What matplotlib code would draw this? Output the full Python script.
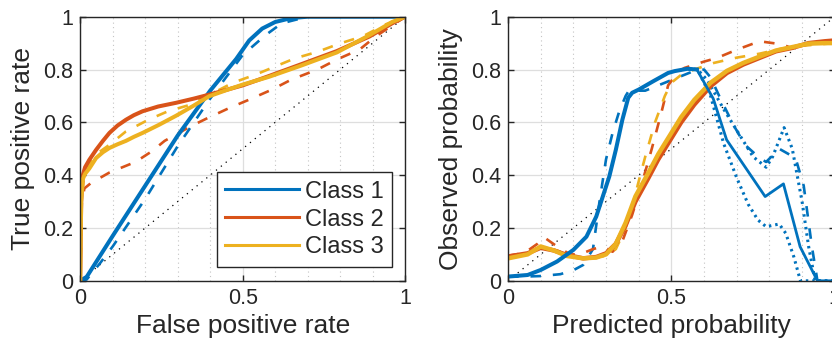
import matplotlib
matplotlib.use("Agg")
import matplotlib.pyplot as plt
import matplotlib.ticker as mticker

plt.rcParams["font.family"] = ["Liberation Sans", "DejaVu Sans"]

BLUE, RED, YEL = "#0072BD", "#D95319", "#EDB120"

# ---- left: ROC curves ----
roc1_x = [0, 0.02, 0.1, 0.2, 0.3, 0.4, 0.48, 0.52, 0.56, 0.6, 0.65, 0.7, 1]
roc1_y = [0, 0.015, 0.17, 0.36, 0.55, 0.72, 0.84, 0.91, 0.955, 0.98, 0.995, 1, 1]
roc1d_x = [0, 0.02, 0.06, 0.1, 0.2, 0.3, 0.4, 0.5, 0.57, 0.62, 0.7, 1]
roc1d_y = [0, 0.005, 0.065, 0.13, 0.31, 0.51, 0.69, 0.855, 0.93, 0.975, 1, 1]

roc2_x = [0, 0.003, 0.008, 0.015, 0.028, 0.049, 0.07, 0.09, 0.115, 0.141, 0.165, 0.192, 0.24, 0.295, 0.35,
          0.397, 0.5, 0.58, 0.68, 0.79, 0.89, 0.96, 1]
roc2_y = [0, 0.3, 0.4, 0.43, 0.458, 0.496, 0.53, 0.56, 0.588, 0.61, 0.627, 0.642, 0.66, 0.674, 0.69,
          0.705, 0.74, 0.775, 0.82, 0.87, 0.925, 0.975, 1]
roc2d_x = [0, 0.005, 0.013, 0.033, 0.09, 0.17, 0.22, 0.26, 0.34, 0.39, 0.46, 0.52, 0.59, 0.65, 0.73, 0.79, 0.86, 0.91, 1]
roc2d_y = [0, 0.3, 0.35, 0.37, 0.41, 0.45, 0.49, 0.53, 0.585, 0.615, 0.655, 0.686, 0.724, 0.762, 0.8, 0.838, 0.876, 0.926, 1]

roc3_x = [0, 0.003, 0.008, 0.015, 0.028, 0.049, 0.07, 0.09, 0.115, 0.141, 0.165, 0.192, 0.243, 0.295, 0.346,
          0.397, 0.45, 0.5, 0.58, 0.68, 0.79, 0.89, 0.96, 1]
roc3_y = [0, 0.3, 0.385, 0.405, 0.425, 0.465, 0.487, 0.503, 0.517, 0.53, 0.545, 0.56, 0.591, 0.625, 0.661,
          0.699, 0.722, 0.743, 0.772, 0.815, 0.865, 0.93, 0.98, 1]
roc3d_x = [0, 0.004, 0.01, 0.025, 0.05, 0.09, 0.14, 0.21, 0.27, 0.34, 0.47, 0.54, 0.66, 0.73, 0.8, 0.87, 0.94, 1]
roc3d_y = [0, 0.3, 0.38, 0.44, 0.48, 0.515, 0.565, 0.61, 0.642, 0.667, 0.75, 0.781, 0.842, 0.867, 0.899, 0.926, 0.971, 1]

# ---- right: reliability curves ----
rel1_x = [0, 0.06, 0.1, 0.15, 0.2, 0.24, 0.27, 0.29, 0.31, 0.33, 0.35, 0.368, 0.38, 0.4, 0.445, 0.49, 0.51, 0.55, 0.578,
          0.628, 0.669, 0.787, 0.843, 0.894, 0.947, 1]
rel1_y = [0.016, 0.022, 0.041, 0.073, 0.117, 0.167, 0.243, 0.319, 0.395, 0.496, 0.61, 0.693, 0.712, 0.724, 0.756, 0.787,
          0.794, 0.803, 0.8, 0.69, 0.534, 0.319, 0.367, 0.129, 0.0, 0.0]
rel1d_x = [0, 0.05, 0.1, 0.16, 0.2, 0.23, 0.26, 0.28, 0.3, 0.32, 0.34, 0.36, 0.37, 0.42, 0.47, 0.52, 0.56, 0.6, 0.62,
           0.65, 0.69, 0.725, 0.77, 0.79, 0.83, 0.88, 0.905, 0.93, 0.947, 1]
rel1d_y = [0.016, 0.016, 0.018, 0.025, 0.04, 0.06, 0.12, 0.3, 0.46, 0.56, 0.64, 0.7, 0.72, 0.72, 0.745, 0.77, 0.79, 0.8,
           0.77, 0.69, 0.59, 0.515, 0.465, 0.45, 0.5, 0.465, 0.36, 0.13, 0.0, 0.0]
rel1hi_x = [0.55, 0.58, 0.61, 0.66, 0.71, 0.75, 0.79, 0.81, 0.845, 0.87, 0.9, 0.92, 0.94, 1]
rel1hi_y = [0.803, 0.8, 0.76, 0.65, 0.55, 0.47, 0.43, 0.47, 0.58, 0.5, 0.3, 0.13, 0.0, 0.0]
rel1lo_x = [0.55, 0.58, 0.62, 0.66, 0.7, 0.735, 0.765, 0.79, 0.83, 0.85, 0.875, 0.895, 1]
rel1lo_y = [0.803, 0.8, 0.7, 0.52, 0.39, 0.29, 0.23, 0.205, 0.215, 0.18, 0.09, 0.0, 0.0]

rel2_x = [0, 0.06, 0.1, 0.14, 0.18, 0.23, 0.27, 0.3, 0.33, 0.36, 0.39, 0.43, 0.46, 0.49, 0.53, 0.57, 0.62, 0.67,
          0.72, 0.77, 0.82, 0.87, 0.92, 0.97, 1]
rel2_y = [0.092, 0.104, 0.125, 0.115, 0.098, 0.085, 0.09, 0.104, 0.14, 0.21, 0.3, 0.39, 0.46, 0.52, 0.6, 0.667, 0.737,
          0.787, 0.819, 0.844, 0.869, 0.882, 0.9, 0.907, 0.91]
rel3_y = [0.085, 0.1, 0.13, 0.115, 0.094, 0.085, 0.088, 0.1, 0.14, 0.22, 0.32, 0.41, 0.48, 0.54, 0.62, 0.685, 0.75,
          0.795, 0.825, 0.849, 0.872, 0.885, 0.898, 0.9, 0.9]
rel2d_x = [0, 0.05, 0.09, 0.11, 0.15, 0.19, 0.22, 0.26, 0.29, 0.32, 0.35, 0.38, 0.41, 0.44, 0.47, 0.49, 0.52, 0.54,
           0.6, 0.64, 0.7, 0.77, 0.84, 0.87, 0.92, 0.97, 1]
rel2d_y = [0.095, 0.105, 0.14, 0.165, 0.13, 0.1, 0.1, 0.12, 0.13, 0.11, 0.15, 0.25, 0.37, 0.5, 0.64, 0.74, 0.79, 0.806,
           0.83, 0.844, 0.875, 0.907, 0.895, 0.88, 0.895, 0.905, 0.91]
rel3d_x = [0, 0.05, 0.1, 0.15, 0.2, 0.25, 0.3, 0.33, 0.36, 0.39, 0.42, 0.45, 0.48, 0.5, 0.53, 0.57, 0.63, 0.7, 0.77,
           0.84, 0.9, 0.95, 1]
rel3d_y = [0.085, 0.1, 0.13, 0.115, 0.09, 0.085, 0.095, 0.12, 0.2, 0.33, 0.47, 0.6, 0.7, 0.75, 0.78, 0.8, 0.825, 0.845,
           0.86, 0.88, 0.89, 0.895, 0.9]

DASH = (0, (4, 4.5))
DOT = (0, (0.8, 1.3))
PEAK = 19  # blue reliability curve: dense-marker part ends at its peak


def style(ax, xlabel, ylabel):
    ax.set_xlim(0, 1)
    ax.set_ylim(0, 1)
    ax.set_xticks([0, 0.5, 1])
    ax.set_yticks([0, 0.2, 0.4, 0.6, 0.8, 1])
    ax.xaxis.set_major_formatter(mticker.FormatStrFormatter("%g"))
    ax.yaxis.set_major_formatter(mticker.FormatStrFormatter("%g"))
    ax.xaxis.set_minor_locator(mticker.MultipleLocator(0.1))
    ax.tick_params(which="major", direction="in", length=4.5, width=1, color="#262626",
                   top=True, right=True, labelsize=15.5, pad=5, labelcolor="#262626")
    ax.tick_params(which="minor", length=0)
    ax.grid(True, which="major", color="#dedede", lw=0.9)
    ax.grid(True, which="minor", axis="x", color="#c4c4c4", lw=0.8, ls=(0, (1, 3)))
    ax.set_axisbelow(True)
    for s in ax.spines.values():
        s.set_color("#262626")
        s.set_linewidth(1)
    ax.set_xlabel(xlabel, fontsize=19, color="#262626", labelpad=4)
    ax.set_ylabel(ylabel, fontsize=19, color="#262626", labelpad=6)


fig = plt.figure(figsize=(8.32, 3.51), dpi=100)
ax1 = fig.add_axes([0.0964, 0.2, 0.3906, 0.7524])
ax2 = fig.add_axes([0.6106, 0.2, 0.3927, 0.7524])

# left panel
ax1.plot([0, 1], [0, 1], color="black", lw=0.9, ls=(0, (1, 4)))
ax1.plot(roc2d_x, roc2d_y, color=RED, lw=1.9, ls=DASH)
ax1.plot(roc3d_x, roc3d_y, color=YEL, lw=1.9, ls=DASH)
ax1.plot(roc1d_x, roc1d_y, color=BLUE, lw=1.9, ls=DASH)
h1, = ax1.plot(roc1_x, roc1_y, color=BLUE, lw=2.9, label="Class 1")
h2, = ax1.plot(roc2_x, roc2_y, color=RED, lw=2.9, label="Class 2")
h3, = ax1.plot(roc3_x, roc3_y, color=YEL, lw=2.9, label="Class 3")
style(ax1, "False positive rate", "True positive rate")
leg = ax1.legend(handles=[h1, h2, h3], loc="lower right", bbox_to_anchor=(0.958, 0.0535),
                 fontsize=17, handlelength=3.1, handletextpad=0.25, labelspacing=0.25,
                 borderpad=0.35, borderaxespad=0, fancybox=False, framealpha=1,
                 edgecolor="#262626")
leg.get_frame().set_linewidth(1)
for t in leg.get_texts():
    t.set_color("#262626")
for h in leg.legend_handles:
    h.set_linewidth(2.2)

# right panel
ax2.plot([0, 1], [0, 1], color="black", lw=0.9, ls=(0, (1, 4)))
ax2.plot(rel1hi_x, rel1hi_y, color=BLUE, lw=2.2, ls=DOT)
ax2.plot(rel1lo_x, rel1lo_y, color=BLUE, lw=2.2, ls=DOT)
ax2.plot(rel1d_x, rel1d_y, color=BLUE, lw=1.9, ls=DASH)
ax2.plot(rel2d_x, rel2d_y, color=RED, lw=1.9, ls=DASH)
ax2.plot(rel3d_x, rel3d_y, color=YEL, lw=1.9, ls=DASH)
ax2.plot(rel2_x, rel2_y, color=RED, lw=3.2)
ax2.plot(rel2_x, rel3_y, color=YEL, lw=3.2)
ax2.plot(rel1_x[PEAK - 1:], rel1_y[PEAK - 1:], color=BLUE, lw=2.0)
ax2.plot(rel1_x[:PEAK], rel1_y[:PEAK], color=BLUE, lw=2.9)
style(ax2, "Predicted probability", "Observed probability")

fig.savefig("out.png", dpi=100)
